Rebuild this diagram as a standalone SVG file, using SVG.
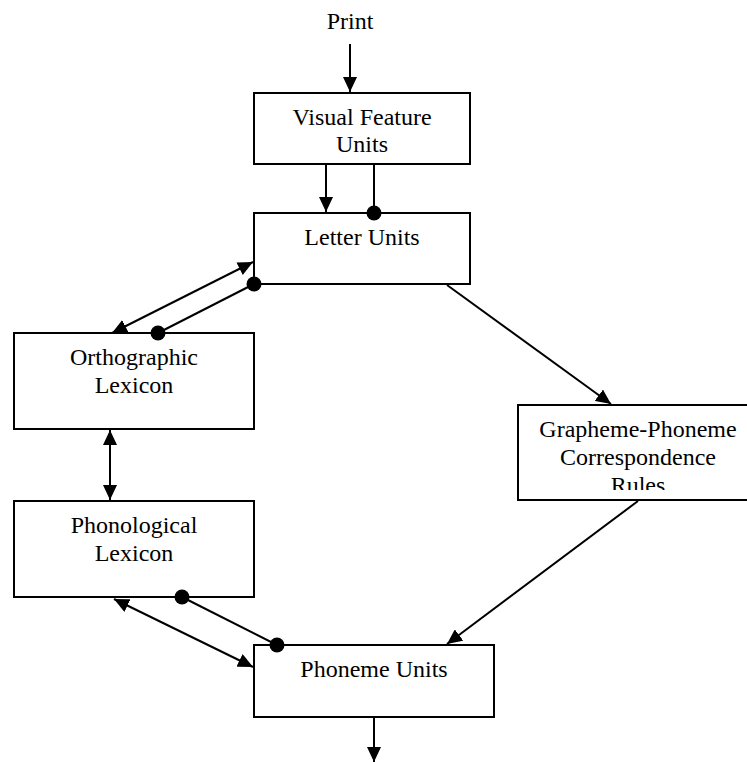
<svg xmlns="http://www.w3.org/2000/svg" width="747" height="762" viewBox="0 0 747 762">
<style>
.box{fill:#fff;stroke:#000;stroke-width:2}
.t{font-family:"Liberation Serif","Times New Roman",serif;font-size:24px;fill:#000;text-anchor:middle}
.c{fill:none;stroke:#000;stroke-width:2}
.a{marker-end:url(#ah)}
.aa{marker-start:url(#ah);marker-end:url(#ah)}
.dd{marker-start:url(#dot);marker-end:url(#dot)}
</style>
<defs>
<marker id="ah" viewBox="0 0 15 14" refX="15" refY="7" markerWidth="15" markerHeight="14" markerUnits="userSpaceOnUse" orient="auto-start-reverse">
<path d="M0,0 L15,7 L0,14 z" fill="#000"/>
</marker>
<marker id="dot" viewBox="-8 -8 16 16" refX="0" refY="0" markerWidth="16" markerHeight="16" markerUnits="userSpaceOnUse">
<circle cx="0" cy="0" r="7.5" fill="#000"/>
</marker>
<clipPath id="gpcclip"><rect x="518" y="405" width="240" height="85"/></clipPath>
</defs>
<text class="t" x="350" y="29">Print</text>
<g id="visual-feature-units">
<rect class="box" x="254" y="93" width="216" height="71"/>
<text class="t" x="362" y="125">Visual Feature</text>
<text class="t" x="362" y="152">Units</text>
</g>
<g id="letter-units">
<rect class="box" x="254" y="213" width="216" height="71"/>
<text class="t" x="362" y="245">Letter Units</text>
</g>
<g id="orthographic-lexicon">
<rect class="box" x="14" y="333" width="240" height="96"/>
<text class="t" x="134" y="365">Orthographic</text>
<text class="t" x="134" y="393">Lexicon</text>
</g>
<g id="phonological-lexicon">
<rect class="box" x="14" y="501" width="240" height="96"/>
<text class="t" x="134" y="533">Phonological</text>
<text class="t" x="134" y="561">Lexicon</text>
</g>
<g id="gpc-rules">
<rect class="box" x="518" y="405" width="240" height="95"/>
<g clip-path="url(#gpcclip)">
<text class="t" x="638" y="437">Grapheme-Phoneme</text>
<text class="t" x="638" y="465">Correspondence</text>
<text class="t" x="638" y="493">Rules</text>
</g>
</g>
<g id="phoneme-units">
<rect class="box" x="254" y="645" width="240" height="72"/>
<text class="t" x="374" y="677">Phoneme Units</text>
</g>
<g id="connectors">
<line class="c a" x1="350" y1="44" x2="350" y2="92"/>
<line class="c a" x1="326" y1="164" x2="326" y2="212"/>
<line class="c" x1="374" y1="164" x2="374" y2="213" marker-end="url(#dot)"/>
<line class="c aa" x1="112" y1="333" x2="253" y2="262"/>
<line class="c dd" x1="158" y1="333" x2="254" y2="284"/>
<line class="c aa" x1="110" y1="430" x2="110" y2="500"/>
<line class="c a" x1="447" y1="285" x2="611" y2="404"/>
<line class="c a" x1="638" y1="501" x2="447" y2="644"/>
<line class="c aa" x1="114" y1="599" x2="253" y2="667"/>
<line class="c dd" x1="182" y1="597" x2="277" y2="645"/>
<line class="c a" x1="374" y1="717" x2="374" y2="762"/>
</g>
</svg>
